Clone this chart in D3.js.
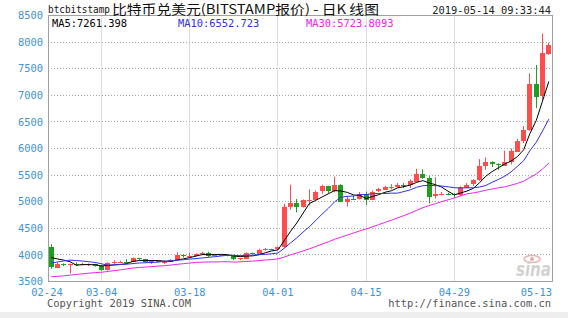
<!DOCTYPE html>
<html>
<head>
<meta charset="utf-8">
<script src="https://cdn.jsdelivr.net/npm/d3@7"></script>
<style>
  html, body { margin: 0; padding: 0; background: #fff; }
  svg { display: block; }
</style>
</head>
<body>
<svg id="chart" width="568" height="318"></svg>
<script>
const dates = [
  "02-24", "02-25", "02-26", "02-27", "02-28",
  "03-01", "03-02", "03-03", "03-04", "03-05", "03-06", "03-07", "03-08", "03-09", "03-10",
  "03-11", "03-12", "03-13", "03-14", "03-15", "03-16", "03-17", "03-18", "03-19", "03-20",
  "03-21", "03-22", "03-23", "03-24", "03-25", "03-26", "03-27", "03-28", "03-29", "03-30", "03-31",
  "04-01", "04-02", "04-03", "04-04", "04-05", "04-06", "04-07", "04-08", "04-09", "04-10",
  "04-11", "04-12", "04-13", "04-14", "04-15", "04-16", "04-17", "04-18", "04-19", "04-20",
  "04-21", "04-22", "04-23", "04-24", "04-25", "04-26", "04-27", "04-28", "04-29", "04-30",
  "05-01", "05-02", "05-03", "05-04", "05-05", "05-06", "05-07", "05-08", "05-09", "05-10",
  "05-11", "05-12", "05-13", "05-14"
];

const open = [
  4140, 3760, 3830, 3810, 3820, 3810, 3820, 3825, 3795, 3715,
  3855, 3865, 3875, 3865, 3940, 3920, 3870, 3880, 3865, 3870,
  3910, 4000, 3980, 3985, 4020, 4045, 3990, 3995, 4000, 3990,
  3920, 3935, 4040, 4025, 4100, 4105, 4100, 4140, 4900, 4970,
  4900, 5025, 5040, 5190, 5290, 5200, 5320, 5005, 5060, 5050,
  5150, 5040, 5190, 5230, 5280, 5285, 5320, 5300, 5380, 5530,
  5450, 5100, 5140, 5150, 5140, 5120, 5270, 5320, 5400, 5670,
  5740, 5700, 5680, 5750, 5950, 6150, 6350, 7210, 6975, 7790
];
const high = [
  4200, 3860, 3840, 3840, 3860, 3850, 3840, 3835, 3810, 3860,
  3900, 3890, 3920, 3950, 3945, 3925, 3890, 3890, 3900, 3920,
  4050, 4010, 4040, 4030, 4060, 4060, 4010, 4010, 4005, 4000,
  3945, 4050, 4045, 4115, 4130, 4115, 4160, 4960, 5320, 5050,
  5040, 5230, 5210, 5320, 5300, 5470, 5330, 5100, 5110, 5180,
  5190, 5210, 5260, 5300, 5330, 5350, 5350, 5420, 5620, 5610,
  5480, 5460, 5180, 5170, 5160, 5290, 5350, 5420, 5800, 5830,
  5760, 5720, 5960, 6000, 6180, 6420, 7410, 7570, 8160, 7990
];
const low = [
  3740, 3750, 3790, 3650, 3790, 3800, 3790, 3780, 3700, 3705,
  3830, 3850, 3840, 3860, 3900, 3850, 3830, 3860, 3830, 3865,
  3905, 3950, 3950, 3970, 3995, 3960, 3975, 3985, 3975, 3900,
  3900, 3930, 4010, 4020, 4080, 4090, 4085, 4135, 4850, 4800,
  4890, 4930, 5030, 5150, 5160, 5180, 4990, 4910, 5040, 5040,
  4940, 5030, 5180, 5220, 5230, 5270, 5260, 5260, 5370, 5430,
  4970, 5060, 5120, 5120, 5080, 5110, 5260, 5300, 5390, 5600,
  5650, 5600, 5670, 5700, 5940, 6100, 6330, 6760, 6900, 7760
];
const close = [
  3760, 3830, 3810, 3820, 3810, 3820, 3825, 3795, 3715, 3855,
  3865, 3875, 3865, 3940, 3920, 3870, 3880, 3865, 3870, 3910,
  4000, 3980, 3985, 4020, 4045, 3990, 3995, 4000, 3990, 3920,
  3935, 4040, 4025, 4100, 4105, 4100, 4140, 4900, 4970, 4900,
  5025, 5040, 5190, 5290, 5200, 5320, 5005, 5060, 5050, 5150,
  5040, 5190, 5230, 5280, 5285, 5320, 5300, 5380, 5530, 5450,
  5100, 5140, 5150, 5140, 5120, 5270, 5320, 5400, 5670, 5740,
  5700, 5680, 5750, 5950, 6150, 6350, 7210, 6975, 7790, 7950
];

const ma5 = [
  3950, 3924, 3902, 3872, 3806, 3818, 3817, 3814, 3793, 3802,
  3811, 3821, 3835, 3880, 3893, 3894, 3895, 3895, 3881, 3879,
  3905, 3925, 3949, 3979, 4006, 4004, 4007, 4010, 4004, 3979,
  3968, 3977, 3982, 4004, 4041, 4074, 4094, 4269, 4443, 4602,
  4787, 4967, 5025, 5089, 5149, 5208, 5201, 5175, 5127, 5117,
  5061, 5098, 5132, 5178, 5205, 5261, 5283, 5313, 5363, 5396,
  5352, 5320, 5274, 5196, 5130, 5164, 5200, 5250, 5356, 5480,
  5566, 5638, 5708, 5764, 5846, 5976, 6282, 6527, 6895, 7261
];
const ma10 = [
  3844, 3867, 3886, 3902, 3894, 3884, 3871, 3858, 3833, 3804,
  3815, 3819, 3825, 3837, 3848, 3853, 3858, 3865, 3881, 3886,
  3900, 3910, 3922, 3930, 3943, 3955, 3966, 3980, 3992, 3993,
  3986, 3992, 3996, 4004, 4010, 4021, 4036, 4126, 4224, 4322,
  4431, 4531, 4647, 4766, 4876, 4998, 5084, 5100, 5108, 5133,
  5135, 5150, 5154, 5153, 5161, 5161, 5191, 5223, 5271, 5301,
  5307, 5302, 5294, 5280, 5263, 5258, 5260, 5262, 5276, 5305,
  5365, 5419, 5479, 5560, 5663, 5771, 5960, 6118, 6330, 6553
];
const ma30 = [
  3590, 3598, 3607, 3620, 3633, 3645, 3657, 3667, 3674, 3689,
  3704, 3719, 3735, 3754, 3764, 3772, 3780, 3789, 3798, 3809,
  3823, 3835, 3847, 3859, 3864, 3867, 3868, 3871, 3871, 3864,
  3870, 3877, 3884, 3894, 3903, 3913, 3923, 3960, 4002, 4037,
  4075, 4114, 4158, 4203, 4246, 4294, 4332, 4372, 4411, 4452,
  4487, 4527, 4569, 4611, 4652, 4696, 4740, 4786, 4837, 4888,
  4927, 4964, 5001, 5036, 5070, 5109, 5148, 5165, 5188, 5216,
  5239, 5260, 5279, 5310, 5345, 5385, 5455, 5520, 5615, 5724
];

const yTicks = [3500, 4000, 4500, 5000, 5500, 6000, 6500, 7000, 7500, 8000, 8500];
const xTickDates = ["02-24", "03-04", "03-18", "04-01", "04-15", "04-29", "05-13"];
const maLabels = ["MA5:7261.398", "MA10:6552.723", "MA30:5723.8093"];

const W = 568, H = 318;
const plot = { left: 48, right: 552, top: 15.5, bottom: 281.5 };
const upColor = "#ff4d4d";
const downColor = "#1f9e1f";
const maColors = ["#000000", "#3030ee", "#ee22ee"];
const labelColor = "#3f93d6";
const mono = "'DejaVu Sans Mono', 'Liberation Mono', monospace";

const svg = d3.select("#chart");

const x = d3.scaleBand().domain(dates).range([plot.left, plot.right]).padding(0);
const cx = (d) => x(d) + x.bandwidth() / 2;
const y = d3.scaleLinear().domain([3500, 8500]).range([plot.bottom, plot.top]);
const crisp = (v) => Math.round(v - 0.5) + 0.5;

// bottom band
svg.append("rect").attr("x", 0).attr("y", 312).attr("width", W).attr("height", H - 312).attr("fill", "#eeeeee");

// grid
const grid = svg.append("g");
grid.selectAll("line.h")
  .data(yTicks.filter((t) => t > 3500 && t < 8500))
  .join("line")
  .attr("x1", plot.left).attr("x2", plot.right)
  .attr("y1", (d) => crisp(y(d))).attr("y2", (d) => crisp(y(d)))
  .attr("stroke", "#a8a8a8").attr("stroke-dasharray", "1,2");

grid.selectAll("line.v")
  .data(xTickDates.slice(1, -1))
  .join("line")
  .attr("x1", (d) => crisp(cx(d))).attr("x2", (d) => crisp(cx(d)))
  .attr("y1", plot.top).attr("y2", plot.bottom)
  .attr("stroke", "#b8b8b8").attr("stroke-dasharray", "1,1");

// sina watermark
const wm = svg.append("g");
wm.append("ellipse").attr("cx", 532).attr("cy", 259).attr("rx", 8).attr("ry", 3.5)
  .attr("fill", "none").attr("stroke", "#e8b4b4").attr("stroke-width", 1.6);
wm.append("circle").attr("cx", 532).attr("cy", 259).attr("r", 2).attr("fill", "#e8a8a8");
wm.append("text").attr("x", 516).attr("y", 276)
  .attr("font-family", "'DejaVu Sans', sans-serif").attr("font-size", 19)
  .attr("font-style", "italic").attr("font-weight", "bold")
  .attr("textLength", 35).attr("lengthAdjust", "spacingAndGlyphs")
  .attr("fill", "#d2d2d2").text("sina");

// frame
svg.append("rect")
  .attr("x", plot.left + 0.5).attr("y", plot.top)
  .attr("width", plot.right - plot.left).attr("height", plot.bottom - plot.top)
  .attr("fill", "none").attr("stroke", "#a0a0a0");

// candles
const idx = d3.range(dates.length);
const bodyW = 5;
const candles = svg.append("g").selectAll("g").data(idx).join("g")
  .attr("fill", (i) => (close[i] >= open[i] ? upColor : downColor))
  .attr("stroke", (i) => (close[i] >= open[i] ? upColor : downColor));

candles.append("line")
  .attr("x1", (i) => crisp(cx(dates[i]))).attr("x2", (i) => crisp(cx(dates[i])))
  .attr("y1", (i) => y(high[i])).attr("y2", (i) => y(low[i]));

candles.append("rect")
  .attr("stroke", "none")
  .attr("x", (i) => Math.round(cx(dates[i]) - bodyW / 2))
  .attr("y", (i) => Math.round(y(Math.max(open[i], close[i]))))
  .attr("width", bodyW)
  .attr("height", (i) => Math.max(1, Math.round(Math.abs(y(open[i]) - y(close[i])))));

// moving averages
const maSeries = [ma5, ma10, ma30];
const line = d3.line().x((v, i) => cx(dates[i])).y((v) => y(v));
svg.append("g").selectAll("path").data(maSeries).join("path")
  .attr("d", (s) => line(s))
  .attr("fill", "none")
  .attr("stroke", (s, k) => maColors[k])
  .attr("stroke-width", 1);

// y labels
svg.append("g").selectAll("text").data(yTicks).join("text")
  .attr("x", 43).attr("y", (d) => y(d))
  .attr("dy", "0.35em")
  .attr("text-anchor", "end")
  .attr("font-family", mono).attr("font-size", 10.4)
  .attr("fill", labelColor)
  .text((d) => d);

// x labels
svg.append("g").selectAll("text").data(xTickDates).join("text")
  .attr("x", (d, i) => (i === 0 ? plot.left - 1 : i === xTickDates.length - 1 ? plot.right : cx(d)))
  .attr("y", 296)
  .attr("text-anchor", (d, i) => (i === xTickDates.length - 1 ? "end" : "middle"))
  .attr("font-family", mono).attr("font-size", 10.4)
  .attr("fill", labelColor)
  .text((d) => d);

// MA legend
const maX = [52, 178, 306];
svg.append("g").selectAll("text").data(maLabels).join("text")
  .attr("x", (d, i) => maX[i]).attr("y", 27)
  .attr("font-family", mono).attr("font-size", 10.4)
  .attr("fill", (d, i) => maColors[i])
  .text((d) => d);

// title
svg.append("text").attr("x", 48).attr("y", 13)
  .attr("font-family", mono).attr("font-size", 10.4)
  .attr("textLength", 62).attr("lengthAdjust", "spacingAndGlyphs")
  .attr("fill", "#111").text("btcbitstamp");
svg.append("text").attr("x", 112).attr("y", 14)
  .attr("font-family", "'Noto Sans CJK SC', sans-serif").attr("font-size", 13)
  .attr("textLength", 267).attr("lengthAdjust", "spacingAndGlyphs")
  .attr("fill", "#111").text("比特币兑美元(BITSTAMP报价) - 日K 线图");

svg.append("text").attr("x", 551).attr("y", 14)
  .attr("text-anchor", "end")
  .attr("font-family", mono).attr("font-size", 10.4)
  .attr("fill", "#222").text("2019-05-14 09:33:44");

// footer
svg.append("text").attr("x", 47).attr("y", 307)
  .attr("font-family", mono).attr("font-size", 10.4)
  .attr("fill", "#555").text("Copyright 2019 SINA.COM");
svg.append("text").attr("x", 551).attr("y", 307)
  .attr("text-anchor", "end")
  .attr("font-family", mono).attr("font-size", 10.4)
  .attr("fill", "#555").text("http://finance.sina.com.cn");
</script>
</body>
</html>
